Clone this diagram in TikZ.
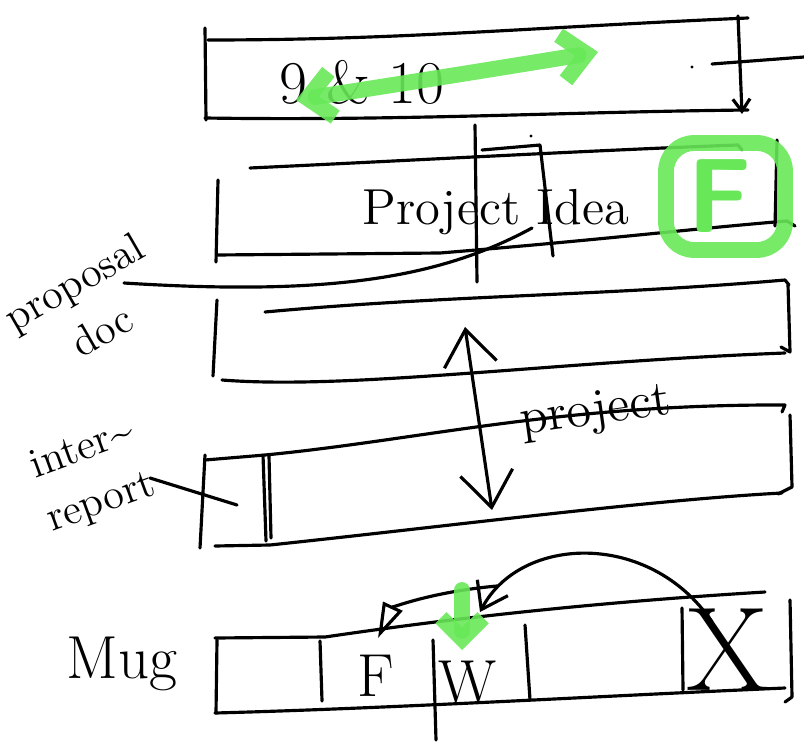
\documentclass[tikz,border=0pt]{standalone}
\usetikzlibrary{arrows.meta}
\definecolor{hlgreen}{RGB}{104,232,88}
\begin{document}
\begin{tikzpicture}[x=0.01cm,y=-0.01cm]%
    \tikzset{%
        pen/.style={line width=0.9pt, line cap=round, line join=round},
        marker/.style={line width=4.5pt, draw=hlgreen, line cap=round, line join=round, opacity=0.9},
        hand/.style={inner sep=0pt, font=\Large},
        barb/.style={-{Straight Barb[length=#1, width=1.4*#1]}},
        barb/.default=6pt,
    }%
    \useasboundingbox (0,0) rectangle (804,746);
    % top band
    \draw[pen] (205,28) -- (206,120);
    \draw[pen] (208,40) .. controls (400,40) and (520,28) .. (748,18);
    \draw[pen] (205,118) .. controls (400,121) and (560,112) .. (748,110);
    \draw[pen, barb=3.5pt] (738,16) -- (742,114);
    \draw[pen] (712,64) -- (804,57);
    \fill (692,67) circle (1.6);
    \node[hand, font=\LARGE] (weeks) at (362,82) {9 \& 10};
    \draw[marker, {Straight Barb[length=7pt, width=13pt]}-{Straight Barb[length=7pt, width=13pt]}]
        (296,100) .. controls (400,84) and (500,68) .. (598,52);
    % project idea band
    \draw[pen] (218,180) -- (216,262);
    \draw[pen] (250,168) .. controls (420,160) and (600,150) .. (738,145) -- (742,150);
    \draw[pen] (217,255) -- (440,253) .. controls (600,240) and (700,228) .. (787,221) -- (795,226);
    \draw[pen] (777,140) -- (775,226);
    \draw[pen] (475,125) -- (477,282);
    \draw[pen] (482,150) -- (540,145) -- (553,256);
    \fill (531,136) circle (1.6);
    \node[hand] (idea) at (496,212) {Project Idea};
    \draw[marker, rounded corners=8] (666,143) rectangle (785,250);
    \node[inner sep=0pt, text=hlgreen, font=\sffamily\bfseries\fontsize{30}{30}\selectfont] (fbox) at (720,196) {F};
    % proposal band
    \draw[pen] (217,300) -- (213,376);
    \draw[pen] (265,312) .. controls (450,295) and (600,296) .. (785,280) -- (789,285);
    \draw[pen] (788,285) -- (790,352) -- (781,347);
    \draw[pen] (222,380) .. controls (350,390) and (550,362) .. (785,353);
    \node[hand, font=\large, align=center, rotate=30, inner sep=0pt] (propdoc) at (88,306) {proposal\\[2pt]doc};
    \coordinate (propend) at (124,283);
    \coordinate (ideafoot) at (532,228);
    \draw[pen] (propend) .. controls (330,296) and (440,278) .. (ideafoot);
    % project band
    \coordinate (spantop) at (465,327);
    \coordinate (spanbot) at (492,510);
    \draw[pen, {Straight Barb[length=10pt, width=15pt]}-{Straight Barb[length=10pt, width=15pt]}] (spantop) -- (spanbot);
    \node[hand, rotate=8] (projword) at (596,413) {project};
    % interim report band
    \draw[pen] (205,460) -- (265,455) .. controls (420,440) and (560,404) .. (785,405) -- (782,412);
    \draw[pen] (205,455) -- (200,548);
    \draw[pen] (263,455) -- (266,541);
    \draw[pen] (269,456) -- (271,538);
    \draw[pen] (790,415) -- (792,487) -- (778,494);
    \draw[pen] (215,546) -- (270,545) .. controls (450,526) and (650,500) .. (782,493);
    \node[hand, font=\large, align=center, rotate=20] (interim) at (92,477) {inter\textasciitilde\\[2pt]report};
    \coordinate (reporttip) at (150,478);
    \coordinate (reportend) at (237,505);
    \draw[pen] (reporttip) -- (reportend);
    % bottom band
    \draw[pen] (215,638) -- (325,637) .. controls (400,626) and (550,605) .. (765,592);
    \draw[pen] (217,640) -- (216,713);
    \draw[pen] (215,713) .. controls (400,708) and (600,696) .. (785,688);
    \draw[pen] (320,641) -- (322,701);
    \draw[pen] (433,640) -- (436,740);
    \draw[pen] (525,625) -- (530,700);
    \draw[pen] (682,608) -- (683,690);
    \draw[pen] (790,600) -- (792,697) -- (785,702);
    \node[hand, font=\LARGE] (mugword) at (122,664) {Mug};
    \node[hand, font=\LARGE] (fcell) at (376,676) {F};
    \node[hand, font=\LARGE] (wcell) at (468,682) {W};
    \node[hand, font=\fontsize{34}{34}\selectfont] (xcell) at (728,650) {X};
    \coordinate (fstart) at (497,586);
    \coordinate (ftip) at (378,638);
    \coordinate (xstart) at (712,622);
    \coordinate (wtip) at (480,612);
    \coordinate (greentop) at (462,590);
    \coordinate (greentip) at (462,650);
    \draw[pen, -{Triangle[open, length=10pt, width=6pt]}] (fstart) .. controls (430,592) and (392,608) .. (ftip);
    \draw[pen, barb=7pt] (xstart) .. controls (650,530) and (520,535) .. (wtip);
    \draw[marker, -{Straight Barb[length=6pt, width=12pt]}] (greentop) -- (greentip);
\end{tikzpicture}
\end{document}
